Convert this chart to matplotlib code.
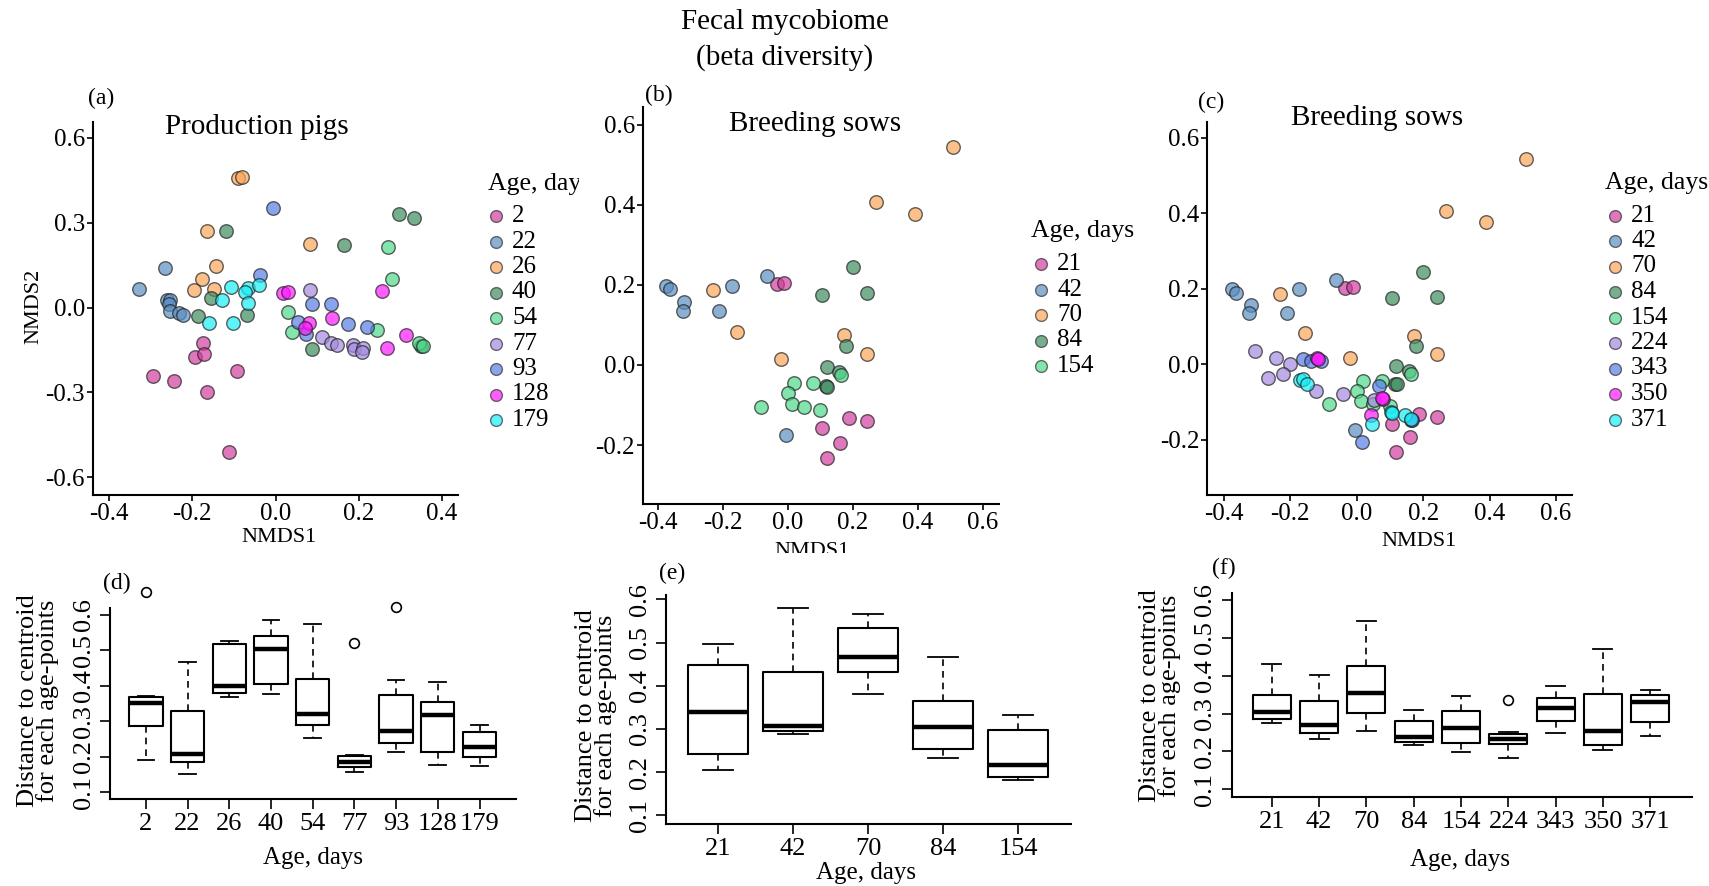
import matplotlib
matplotlib.use('Agg')
import matplotlib.pyplot as plt
from matplotlib.lines import Line2D
from matplotlib.transforms import Bbox, TransformedBbox

plt.rcParams['font.family'] = ['Liberation Serif', 'DejaVu Serif']
plt.rcParams['axes.unicode_minus'] = False

# ---- data ----
pp_ages = ['2', '22', '26', '40', '54', '77', '93', '128', '179']
sow_ages = ['21', '42', '70', '84', '154', '224', '343', '350', '371']

age_colors = ['#d03d9f', '#5b8fc1', '#fca659', '#3d8c5f', '#4fd98a',
              '#a58be0', '#587ce6', '#ff1aff', '#1aeef7']

# production pigs NMDS scores, one list per age
pp_nmds1 = [
    [-0.294, -0.244, -0.193, -0.175, -0.172, -0.166, -0.092, -0.112],
    [-0.328, -0.265, -0.262, -0.253, -0.257, -0.253, -0.232, -0.222],
    [-0.090, -0.081, -0.164, -0.142, -0.177, -0.195, -0.149, 0.083],
    [-0.118, 0.296, 0.333, 0.164, -0.156, -0.186, -0.069, 0.088, 0.349],
    [0.271, 0.280, 0.030, 0.039, 0.244, 0.345, 0.354],
    [0.083, 0.113, 0.133, 0.149, 0.186, 0.188, 0.211, 0.207],
    [-0.006, -0.037, 0.087, 0.134, 0.175, 0.219, 0.053, 0.074],
    [0.018, 0.029, 0.256, 0.136, 0.080, 0.071, 0.315, 0.269],
    [-0.106, -0.066, -0.039, -0.074, -0.129, -0.067, -0.161, -0.103],
]
pp_nmds2 = [
    [-0.243, -0.261, -0.174, -0.127, -0.163, -0.298, -0.224, -0.510],
    [0.067, 0.141, 0.028, 0.026, 0.012, -0.012, -0.018, -0.027],
    [0.456, 0.462, 0.270, 0.146, 0.100, 0.061, 0.065, 0.224],
    [0.271, 0.330, 0.315, 0.219, 0.035, -0.029, -0.028, -0.145, -0.136],
    [0.215, 0.099, -0.015, -0.088, -0.078, -0.127, -0.136],
    [0.061, -0.104, -0.127, -0.131, -0.131, -0.145, -0.143, -0.157],
    [0.350, 0.114, 0.011, 0.012, -0.057, -0.068, -0.051, -0.092],
    [0.050, 0.053, 0.058, -0.037, -0.054, -0.071, -0.098, -0.143],
    [0.073, 0.070, 0.080, 0.053, 0.028, 0.017, -0.053, -0.053],
]

# breeding sows NMDS scores (panel b uses the first five ages)
sow_nmds1 = [
    [-0.034, -0.011, 0.105, 0.187, 0.243, 0.160, 0.119],
    [-0.376, -0.362, -0.319, -0.323, -0.211, -0.173, -0.063, -0.005],
    [0.509, 0.270, 0.390, -0.231, -0.156, -0.021, 0.174, 0.243],
    [0.201, 0.105, 0.242, 0.180, 0.119, 0.158, 0.116, 0.121],
    [0.018, 0.077, 0.163, 0.000, -0.082, 0.012, 0.049, 0.100],
    [-0.307, -0.243, -0.202, -0.267, -0.223, -0.123, -0.040, 0.051],
    [-0.160, -0.138, -0.107, 0.068, 0.162, 0.168, 0.016],
    [-0.119, -0.116, 0.080, 0.076, 0.042],
    [-0.171, -0.162, -0.149, 0.046, 0.104, 0.107, 0.146, 0.164],
]
sow_nmds2 = [
    [0.202, 0.205, -0.158, -0.133, -0.140, -0.194, -0.233],
    [0.198, 0.189, 0.158, 0.136, 0.136, 0.198, 0.222, -0.175],
    [0.543, 0.407, 0.378, 0.187, 0.083, 0.015, 0.075, 0.027],
    [0.244, 0.175, 0.179, 0.047, -0.006, -0.017, -0.052, -0.054],
    [-0.044, -0.046, -0.025, -0.071, -0.106, -0.097, -0.106, -0.112],
    [0.034, 0.016, 0.001, -0.037, -0.027, -0.070, -0.079, -0.094],
    [0.014, 0.007, 0.007, -0.059, -0.148, -0.149, -0.207],
    [0.016, 0.014, -0.092, -0.089, -0.136],
    [-0.043, -0.039, -0.052, -0.158, -0.126, -0.129, -0.136, -0.145],
]

# distance to centroid box stats
d_whislo = [0.192, 0.152, 0.368, 0.377, 0.253, 0.157, 0.213, 0.178, 0.175]
d_q1 = [0.288, 0.186, 0.379, 0.406, 0.290, 0.170, 0.239, 0.214, 0.199]
d_med = [0.351, 0.208, 0.398, 0.503, 0.321, 0.185, 0.272, 0.317, 0.227]
d_q3 = [0.368, 0.330, 0.517, 0.539, 0.420, 0.201, 0.375, 0.353, 0.270]
d_whishi = [0.370, 0.467, 0.525, 0.584, 0.575, 0.206, 0.417, 0.410, 0.290]
d_fliers = [[0.663], [], [], [], [], [0.520], [0.622], [], []]

e_whislo = [0.204, 0.289, 0.381, 0.233, 0.181]
e_q1 = [0.243, 0.296, 0.431, 0.253, 0.188]
e_med = [0.339, 0.307, 0.467, 0.304, 0.216]
e_q3 = [0.447, 0.431, 0.533, 0.365, 0.298]
e_whishi = [0.496, 0.579, 0.565, 0.466, 0.333]
e_fliers = [[], [], [], [], []]

f_whislo = [0.275, 0.234, 0.254, 0.218, 0.198, 0.183, 0.249, 0.203, 0.240]
f_q1 = [0.286, 0.249, 0.301, 0.225, 0.222, 0.220, 0.279, 0.216, 0.278]
f_med = [0.304, 0.271, 0.355, 0.238, 0.262, 0.232, 0.315, 0.253, 0.330]
f_q3 = [0.350, 0.332, 0.424, 0.279, 0.306, 0.245, 0.341, 0.352, 0.348]
f_whishi = [0.430, 0.401, 0.544, 0.310, 0.345, 0.250, 0.372, 0.469, 0.361]
f_fliers = [[], [], [], [], [], [0.335], [], [], []]

# ---- layout helpers (pixel positions in the 1709x886 picture) ----
W, H = 1709, 886
fig = plt.figure(figsize=(W / 100, H / 100), dpi=100)


def fx(px):
    return px / W


def fy(py):
    return 1 - py / H


def box(l, t, r, b):
    return [l / W, 1 - b / H, (r - l) / W, (b - t) / H]


def clip_text(txt, x0=0, y0=0, x1=W, y1=H):
    bb = Bbox([[fx(x0), fy(y1)], [fx(x1), fy(y0)]])
    txt.set_clip_box(TransformedBbox(bb, fig.transFigure))
    txt.set_clip_on(True)


def style_axes(ax, lw=1.5):
    for s in ['top', 'right']:
        ax.spines[s].set_visible(False)
    for s in ['left', 'bottom']:
        ax.spines[s].set_linewidth(lw)


def nmds_panel(rect, xs, ys, xlim, ylim, xticks, yticks):
    ax = fig.add_axes(rect)
    for x, y, c in zip(xs, ys, age_colors):
        ax.scatter(x, y, s=95, color=c, alpha=0.7, edgecolors='#222222',
                   linewidths=1.0, zorder=3)
    ax.set_xlim(xlim)
    ax.set_ylim(ylim)
    ax.set_xticks(xticks)
    ax.set_yticks(yticks)
    ax.set_xticklabels(['%.1f' % t for t in xticks])
    ax.set_yticklabels(['%.1f' % t for t in yticks])
    ax.tick_params(labelsize=18, length=4, width=1.2, pad=1.5)
    style_axes(ax)
    return ax


def age_key(title, labels, tx, ty, mx, row0, pitch, clip_right=None):
    t = fig.text(fx(tx), fy(ty), title, ha='left', va='center', fontsize=18.5)
    if clip_right is not None:
        clip_text(t, x1=clip_right)
    for i, (lab, c) in enumerate(zip(labels, age_colors)):
        y = row0 + i * pitch
        fig.add_artist(Line2D([fx(mx)], [fy(y)], transform=fig.transFigure,
                              ls='none', marker='o', ms=8.5, mfc=c,
                              mec='#333333', mew=1.0, alpha=0.7))
        fig.text(fx(mx + 16), fy(y), lab, ha='left', va='center', fontsize=18)


def box_panel(rect, stats, labels, xlim, ylim):
    ax = fig.add_axes(rect)
    whislo, q1, med, q3, whishi, fliers = stats
    bstats = [dict(whislo=a, q1=b, med=c, q3=d, whishi=e, fliers=f)
              for a, b, c, d, e, f in zip(whislo, q1, med, q3, whishi, fliers)]
    ax.bxp(bstats, positions=range(1, len(labels) + 1), widths=0.8,
           capwidths=0.4,
           boxprops=dict(color='black', lw=1.5),
           medianprops=dict(color='black', lw=3.2),
           whiskerprops=dict(color='black', lw=1.2, ls=(0, (4, 3))),
           capprops=dict(color='black', lw=1.3),
           flierprops=dict(marker='o', mfc='none', mec='black', ms=7,
                           mew=1.2, clip_on=False))
    ax.set_xlim(xlim)
    ax.set_ylim(ylim)
    ax.set_xticks(range(1, len(labels) + 1))
    ax.set_xticklabels(labels)
    ax.set_yticks([0.1, 0.2, 0.3, 0.4, 0.5, 0.6])
    ax.set_yticklabels(['0.1', '0.2', '0.3', '0.4', '0.5', '0.6'])
    ax.tick_params(labelsize=19, length=7, width=1.2)
    ax.tick_params(axis='x', pad=3)
    ax.tick_params(axis='y', pad=4)
    for lab in ax.get_yticklabels():
        lab.set_rotation(90)
        lab.set_va('center')
    style_axes(ax)
    return ax


# ---- figure title ----
fig.text(fx(785), fy(22), 'Fecal mycobiome', ha='center', va='center', fontsize=21)
fig.text(fx(785), fy(58), '(beta diversity)', ha='center', va='center', fontsize=21)

# ---- (a) production pigs ----
nmds_panel(box(92.6, 122, 458, 495), pp_nmds1, pp_nmds2,
           (-0.44, 0.439), (-0.662, 0.655),
           [-0.4, -0.2, 0.0, 0.2, 0.4], [-0.6, -0.3, 0.0, 0.3, 0.6])
fig.text(fx(257), fy(127), 'Production pigs', ha='center', va='center', fontsize=21)
fig.text(fx(101), fy(98), '(a)', ha='center', va='center', fontsize=17)
fig.text(fx(34), fy(306), 'NMDS2', ha='center', va='center', rotation=90, fontsize=16)
fig.text(fx(279), fy(538), 'NMDS1', ha='center', va='center', fontsize=16)
age_key('Age, day', pp_ages, 488, 184, 496, 216, 25.5, clip_right=579)

# ---- (b) breeding sows, first five ages ----
nmds_panel(box(642.5, 107, 998.6, 504), sow_nmds1[:5], sow_nmds2[:5],
           (-0.447, 0.648), (-0.347, 0.644),
           [-0.4, -0.2, 0.0, 0.2, 0.4, 0.6], [-0.2, 0.0, 0.2, 0.4, 0.6])
fig.text(fx(815), fy(124), 'Breeding sows', ha='center', va='center', fontsize=21)
fig.text(fx(659), fy(95), '(b)', ha='center', va='center', fontsize=17)
t = fig.text(fx(812), fy(551), 'NMDS1', ha='center', va='center', fontsize=16)
clip_text(t, y1=553)
age_key('Age, days', sow_ages[:5], 1031, 231, 1041, 264, 25.5)

# ---- (c) breeding sows, all ages ----
nmds_panel(box(1206.8, 122, 1572, 495), sow_nmds1, sow_nmds2,
           (-0.451, 0.648), (-0.347, 0.642),
           [-0.4, -0.2, 0.0, 0.2, 0.4, 0.6], [-0.2, 0.0, 0.2, 0.4, 0.6])
fig.text(fx(1377), fy(118), 'Breeding sows', ha='center', va='center', fontsize=21)
fig.text(fx(1211), fy(102), '(c)', ha='center', va='center', fontsize=17)
fig.text(fx(1419), fy(542), 'NMDS1', ha='center', va='center', fontsize=16)
age_key('Age, days', sow_ages, 1605, 183, 1615, 215.5, 25.5)

# ---- (d)-(f) distance to centroid ----
ylab = 'Distance to centroid\nfor each age-points'

box_panel(box(110, 608, 516, 799),
          (d_whislo, d_q1, d_med, d_q3, d_whishi, d_fliers), pp_ages,
          (0.14, 9.875), (0.081, 0.619))
fig.text(fx(117), fy(583), '(d)', ha='center', va='center', fontsize=17)
fig.text(fx(38), fy(701), ylab, ha='center', va='center', rotation=90,
         fontsize=19, linespacing=0.8)
fig.text(fx(313), fy(858), 'Age, days', ha='center', va='center', fontsize=18)

box_panel(box(666.4, 595, 1071.4, 824),
          (e_whislo, e_q1, e_med, e_q3, e_whishi, e_fliers), sow_ages[:5],
          (0.31, 5.71), (0.08, 0.61))
fig.text(fx(672), fy(573), '(e)', ha='center', va='center', fontsize=17)
fig.text(fx(596), fy(716), ylab, ha='center', va='center', rotation=90,
         fontsize=19, linespacing=0.8)
fig.text(fx(866), fy(873), 'Age, days', ha='center', va='center', fontsize=18)

box_panel(box(1231.6, 593, 1691.8, 797),
          (f_whislo, f_q1, f_med, f_q3, f_whishi, f_fliers), sow_ages,
          (0.15, 9.88), (0.08, 0.6176))
fig.text(fx(1224), fy(568), '(f)', ha='center', va='center', fontsize=17)
fig.text(fx(1160), fy(696), ylab, ha='center', va='center', rotation=90,
         fontsize=19, linespacing=0.8)
fig.text(fx(1460), fy(860), 'Age, days', ha='center', va='center', fontsize=18)

fig.savefig('out.png', dpi=100)
